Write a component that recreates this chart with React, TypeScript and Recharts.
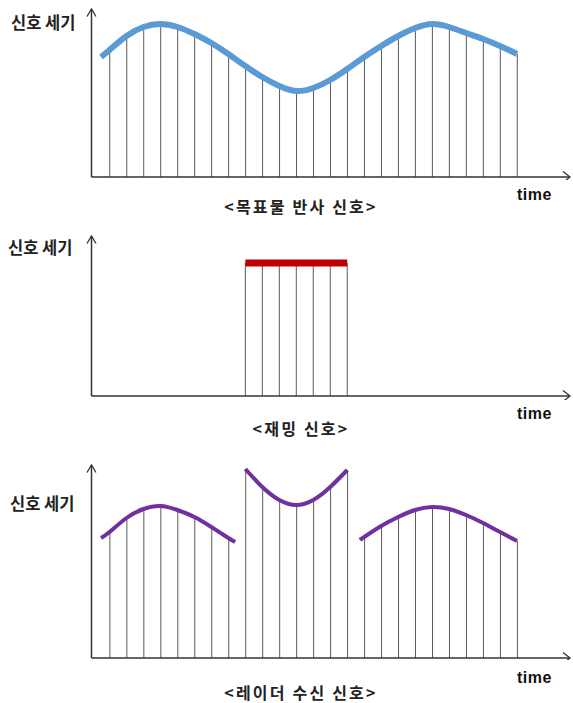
import React from 'react';
import {
  ComposedChart,
  Bar,
  Line,
  XAxis,
  YAxis,
  ReferenceLine,
  ReferenceDot,
} from 'recharts';

// ---- data ---------------------------------------------------------------

// sampling instants shared by all three panels
const sampleTimes = [0, 1, 2, 3, 4, 5, 6, 7, 8, 9, 10, 11, 12, 13, 14, 15, 16, 17, 18, 19, 20, 21, 22, 23, 24];

// reflected target signal: level at each sampling instant
const targetLevels = [127, 141, 150, 153, 150, 143, 134, 123, 111, 100, 91, 86, 89, 97, 108, 120, 131, 141, 149, 153, 150, 144, 138, 131, 123];
// the envelope starts half a step before the first sample
const targetLeadTime = -0.5;
const targetLeadLevel = 120;

// jamming burst
const jamTimes = [8, 9, 10, 11, 12, 13, 14];
const jamLevels = [133, 133, 133, 133, 133, 133, 133];

// received radar signal, three envelope pieces
const rxPartATimes = [-0.5, 0, 1, 2, 3, 4, 5, 6, 7, 7.4];
const rxPartALevels = [120, 126, 140, 149, 152, 148, 141, 131, 120, 116];
const rxPartBTimes = [8, 9, 10, 11, 12, 13, 14];
const rxPartBLevels = [189, 171, 158, 153, 158, 171, 188];
const rxPartCTimes = [14.75, 15, 16, 17, 18, 19, 20, 21, 22, 23, 24];
const rxPartCLevels = [118, 121, 132, 141, 148, 151, 149, 143, 135, 126, 117];

// text
const yAxisTitle = '신호 세기';
const xAxisTitle = 'time';
const captions = ['<목표물 반사 신호>', '<재밍 신호>', '<레이더 수신 신호>'];

// ---- helpers ------------------------------------------------------------

type Pt = { t: number; v: number };
const zip = (ts: number[], vs: number[]): Pt[] => ts.map((t, i) => ({ t, v: vs[i] }));
const isSample = (t: number) => Number.isInteger(t);

const targetCurve: Pt[] = [{ t: targetLeadTime, v: targetLeadLevel }, ...zip(sampleTimes, targetLevels)];
const targetStems: Pt[] = zip(sampleTimes, targetLevels);

const jamCurve: Pt[] = zip(jamTimes, jamLevels);
const jamStems: Pt[] = zip(jamTimes, jamLevels);

const rxA = zip(rxPartATimes, rxPartALevels);
const rxB = zip(rxPartBTimes, rxPartBLevels);
const rxC = zip(rxPartCTimes, rxPartCLevels);
const rxStems: Pt[] = [...rxA, ...rxB, ...rxC].filter((p) => isSample(p.t));

const X_DOMAIN: [number, number] = [-1.06, 27.12];
const W = 573;
const AXIS = '#333333';
const STEM = '#5a5a5a';
const KO_FONT = '"Noto Sans CJK KR", "Noto Sans", sans-serif';
const EN_FONT = '"Liberation Sans", Arial, sans-serif';

const ArrowRight = (p: any) => (
  <path
    d={`M${p.cx - 7},${p.cy - 5.5} L${p.cx},${p.cy} L${p.cx - 7},${p.cy + 5.5}`}
    fill="none"
    stroke={AXIS}
    strokeWidth={1.3}
  />
);

const ArrowUp = (p: any) => (
  <path
    d={`M${p.cx - 4.5},${p.cy + 7.5} L${p.cx},${p.cy} L${p.cx + 4.5},${p.cy + 7.5}`}
    fill="none"
    stroke={AXIS}
    strokeWidth={1.3}
  />
);

type PanelProps = {
  top: number;
  height: number;
  marginTop: number;
  marginBottom: number;
  yMax: number;
  stems: Pt[];
  children: React.ReactNode;
};

function Panel({ top, height, marginTop, marginBottom, yMax, stems, children }: PanelProps) {
  return (
    <div style={{ position: 'absolute', left: 0, top, width: W, height }}>
      <ComposedChart
        width={W}
        height={height}
        data={stems}
        margin={{ top: marginTop, right: 3, bottom: marginBottom, left: 91.5 }}
      >
        <XAxis type="number" dataKey="t" domain={X_DOMAIN} allowDataOverflow hide />
        <YAxis type="number" domain={[0, yMax]} allowDataOverflow hide />
        <Bar dataKey="v" barSize={1} fill={STEM} isAnimationActive={false} />
        <ReferenceLine y={0} stroke={AXIS} strokeWidth={1.5} ifOverflow="visible" />
        <ReferenceLine x={X_DOMAIN[0]} stroke={AXIS} strokeWidth={1.5} ifOverflow="visible" />
        <ReferenceDot x={X_DOMAIN[1]} y={0} ifOverflow="visible" shape={ArrowRight} />
        <ReferenceDot x={X_DOMAIN[0]} y={yMax} ifOverflow="visible" shape={ArrowUp} />
        {children}
      </ComposedChart>
    </div>
  );
}

const lineProps = {
  dataKey: 'v',
  dot: false,
  activeDot: false,
  isAnimationActive: false,
};

export default function App() {
  return (
    <div style={{ position: 'absolute', left: 0, top: 0, width: W, height: 703, background: '#ffffff' }}>
      {/* reflected target signal */}
      <Panel top={0} height={180} marginTop={9} marginBottom={3} yMax={168} stems={targetStems}>
        <Line {...lineProps} data={targetCurve} type="natural" stroke="#5B9BD5" strokeWidth={6} />
      </Panel>

      {/* jamming signal */}
      <Panel top={230} height={170} marginTop={6} marginBottom={4} yMax={160} stems={jamStems}>
        <Line {...lineProps} data={jamCurve} type="linear" stroke="#C00000" strokeWidth={7} />
      </Panel>

      {/* received radar signal */}
      <Panel top={460} height={200} marginTop={5} marginBottom={2} yMax={193} stems={rxStems}>
        <Line {...lineProps} data={rxA} type="natural" stroke="#7030A0" strokeWidth={4} />
        <Line {...lineProps} data={rxB} type="natural" stroke="#7030A0" strokeWidth={4} />
        <Line {...lineProps} data={rxC} type="natural" stroke="#7030A0" strokeWidth={4} />
      </Panel>

      {/* titles and captions */}
      <svg
        width={W}
        height={703}
        style={{ position: 'absolute', left: 0, top: 0, pointerEvents: 'none' }}
      >
        {[
          { y: 29, x: 11 },
          { y: 254, x: 8 },
          { y: 510, x: 10 },
        ].map((p, i) => (
          <text key={`yt${i}`} x={p.x} y={p.y} fontFamily={KO_FONT} fontSize={16.5} fontWeight={600} fill="#222">
            {yAxisTitle}
          </text>
        ))}
        {[200, 419, 683].map((y, i) => (
          <text key={`xt${i}`} x={517} y={y} fontFamily={EN_FONT} fontSize={16} fontWeight={700} fill="#111" letterSpacing={0.5}>
            {xAxisTitle}
          </text>
        ))}
        {[213, 435, 699].map((y, i) => (
          <text
            key={`cap${i}`}
            x={301}
            y={y}
            textAnchor="middle"
            fontFamily={KO_FONT}
            fontSize={16}
            fontWeight={600}
            fill="#222"
            letterSpacing={2.2}
          >
            {captions[i]}
          </text>
        ))}
      </svg>
    </div>
  );
}
